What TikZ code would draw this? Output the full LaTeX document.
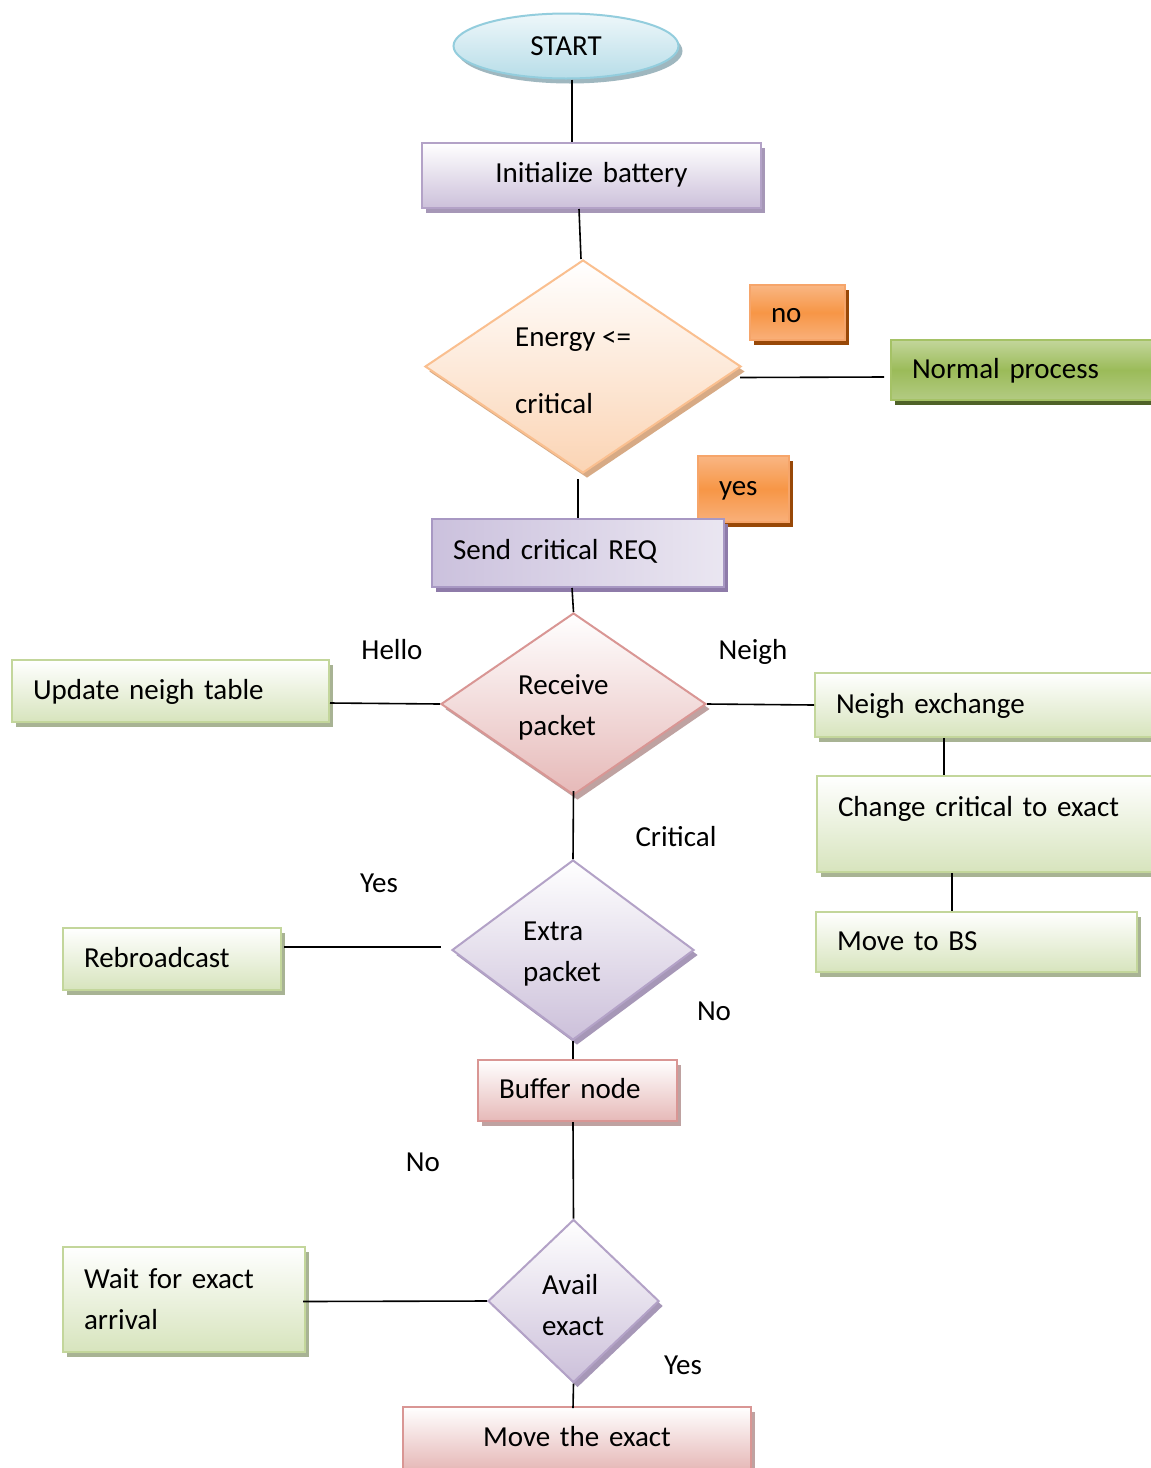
\documentclass[tikz,border=0pt]{standalone}
\usepackage{fontspec}
\setmainfont{Carlito}
\usetikzlibrary{shapes.geometric,shadows}

\definecolor{bluebd}{HTML}{93CDDD}
\definecolor{bluetop}{HTML}{EEF7FA}
\definecolor{bluebot}{HTML}{B7DDE8}
\definecolor{bluesh}{HTML}{9FB7BF}
\definecolor{lavbot}{HTML}{CCC0DA}
\definecolor{lavbd}{HTML}{B3A2C7}
\definecolor{lavsh}{HTML}{A697B7}
\definecolor{sendl}{HTML}{CBC1DD}
\definecolor{sendr}{HTML}{EAE6F1}
\definecolor{sendbd}{HTML}{A898C3}
\definecolor{sendsh}{HTML}{8E7BA9}
\definecolor{peachbot}{HTML}{FBD4B4}
\definecolor{peachbd}{HTML}{FABF8F}
\definecolor{peachsh}{HTML}{D7AA85}
\definecolor{orgmid}{HTML}{F79646}
\definecolor{orgtop}{HTML}{F9B683}
\definecolor{orgbot}{HTML}{F9B07A}
\definecolor{orgbd}{HTML}{F6A56A}
\definecolor{orgsh}{HTML}{984807}
\definecolor{dgtop}{HTML}{C3D69B}
\definecolor{dgmid}{HTML}{9BBB59}
\definecolor{dgbot}{HTML}{B3CB83}
\definecolor{dgbd}{HTML}{A5C266}
\definecolor{dgsh}{HTML}{4F6228}
\definecolor{lgbot}{HTML}{D7E4BD}
\definecolor{lgbd}{HTML}{C3D69B}
\definecolor{lgsh}{HTML}{A8B394}
\definecolor{pinkbot}{HTML}{E6B9B8}
\definecolor{pinkbd}{HTML}{D99694}
\definecolor{pinksh}{HTML}{BFA2A1}

\tikzset{
  txt/.style={font=\fontsize{29}{41}\selectfont, inner sep=0pt},
  oneline/.style={txt, text height=19pt, text depth=6pt},
  bx/.style={oneline, rectangle, line width=2pt, inner xsep=21pt, inner ysep=0pt, align=left},
  conn/.style={draw=black, line width=1.6pt},
  shd/.style={drop shadow={shadow xshift=4pt, shadow yshift=-5pt, fill=#1, opacity=1}},
  bluest/.style={draw=bluebd, top color=bluetop, bottom color=bluebot, shd=bluesh},
  lavst/.style={draw=lavbd, top color=white, bottom color=lavbot, shd=lavsh},
  sendst/.style={draw=sendbd, left color=sendl, right color=sendr, shd=sendsh},
  peachst/.style={draw=peachbd, top color=white, bottom color=peachbot, shd=peachsh},
  orgst/.style={draw=orgbd, top color=orgtop, bottom color=orgbot, middle color=orgmid, shd=orgsh},
  dgst/.style={draw=dgbd, top color=dgtop, bottom color=dgbot, middle color=dgmid, shd=dgsh},
  lgst/.style={draw=lgbd, top color=white, bottom color=lgbot, shd=lgsh},
  pinkst/.style={draw=pinkbd, top color=white, bottom color=pinkbot, shd=pinksh},
  dia/.style={diamond, line width=2pt, inner sep=0pt},
}

\begin{document}
\begin{tikzpicture}[x=1pt,y=-1pt]
\clip (0,0) rectangle (1151,1468);
\fill[white] (0,0) rectangle (1151,1468);

% nodes
\node[oneline, text depth=0pt, ellipse, line width=2pt, bluest, minimum width=225pt, minimum height=65pt] (start) at (566,46) {START};
\node[bx, lavst, align=center, text width=297pt, minimum height=65pt] (init) at (591.5,175.5) {Initialize battery};

\node[dia, peachst, minimum width=316pt, minimum height=213pt] (energy) at (583,366.5) {};
\node[txt, anchor=west, align=left] (energytxt) at (515,371) {Energy <=\\[26pt]critical};

\node[bx, orgst, text width=53pt, text depth=0pt, minimum height=55pt] (no) at (797.5,312.5) {no};
\node[bx, dgst, text width=232pt, text depth=2pt, minimum height=60pt] (normal) at (1028,370) {Normal process};
\node[bx, orgst, text width=49pt, minimum height=66pt] (yes) at (743.5,489) {yes};
\node[bx, sendst, text width=250pt, minimum height=68pt] (send) at (578,553) {Send critical REQ};

\node[dia, pinkst, minimum width=265pt, minimum height=182pt] (receive) at (573.5,704) {};
\node[txt, anchor=west, align=left] (receivetxt) at (518,707) {Receive\\packet};

\node[oneline] (hello) at (392,653) {Hello};
\node[oneline] (neighlbl) at (753,653) {Neigh};

\node[bx, lgst, text width=275pt, text depth=3pt, minimum height=62pt] (update) at (170.5,691) {Update neigh table};
\node[bx, lgst, text width=308pt, text depth=3pt, minimum height=64pt] (neighx) at (990,705) {Neigh exchange};
\node[bx, lgst, text width=306pt, minimum height=96pt, text depth=35pt] (change) at (991,824) {Change critical to exact};
\node[bx, lgst, text width=279pt, text depth=3pt, minimum height=60pt] (movebs) at (976.5,942) {Move to BS};

\node[oneline] (criticallbl) at (676,840) {Critical};

\node[dia, lavst, minimum width=242pt, minimum height=180pt] (extra) at (573,950) {};
\node[txt, anchor=west, align=left] (extratxt) at (523,954) {Extra\\packet};

\node[oneline] (yeslbl) at (379,886) {Yes};
\node[bx, lgst, text width=176pt, text depth=3pt, minimum height=62pt] (rebroad) at (172,959) {Rebroadcast};
\node[oneline] (nolbl) at (714,1014) {No};

\node[bx, pinkst, text width=157pt, text depth=3pt, minimum height=61pt] (buffer) at (577.5,1090.5) {Buffer node};
\node[oneline] (nolbltwo) at (423,1165) {No};

\node[dia, lavst, minimum width=171pt, minimum height=163pt] (avail) at (573.5,1301) {};
\node[txt, anchor=west, align=left] (availtxt) at (542,1305) {Avail\\exact};

\node[bx, lgst, text width=200pt, minimum height=105pt, text height=, text depth=] (wait) at (184,1299.5) {Wait for exact\\arrival};
\node[oneline] (yeslbltwo) at (683,1368) {Yes};
\node[bx, pinkst, align=center, text width=306pt, text depth=2pt, minimum height=62pt] (moveexact) at (577,1438) {Move the exact};

% connectors
\draw[conn] ([xshift=6pt]start.south) -- ([xshift=-19.5pt]init.north);
\draw[conn] ([xshift=-12.5pt]init.south) -- ([xshift=-2pt]energy.north);
\draw[conn] ([xshift=-2pt,yshift=-11pt]energy.east) -- ([xshift=-6pt,yshift=-7pt]normal.west);
\draw[conn] ([xshift=-5pt,yshift=-5pt]energy.south) -- (send.north);
\draw[conn] ([xshift=-6pt]send.south) -- (receive.north);
\draw[conn] ([yshift=-12pt]update.east) -- (receive.west);
\draw[conn] (receive.east) -- (neighx.west);
\draw[conn] ([xshift=-46pt]neighx.south) -- ([xshift=-47pt]change.north);
\draw[conn] ([xshift=-39pt]change.south) -- ([xshift=-24.5pt]movebs.north);
\draw[conn] ([yshift=5pt]receive.south) -- (extra.north);
\draw[conn] ([xshift=2pt,yshift=12pt]rebroad.east) -- ([xshift=-10pt,yshift=3pt]extra.west);
\draw[conn] (extra.south) -- ([xshift=-4.5pt]buffer.north);
\draw[conn] ([xshift=-4.5pt]buffer.south) -- (avail.north);
\draw[conn] ([xshift=-3pt,yshift=-2pt]wait.east) -- (avail.west);
\draw[conn] (avail.south) -- ([xshift=-4pt,yshift=-2pt]moveexact.north);
\end{tikzpicture}
\end{document}
